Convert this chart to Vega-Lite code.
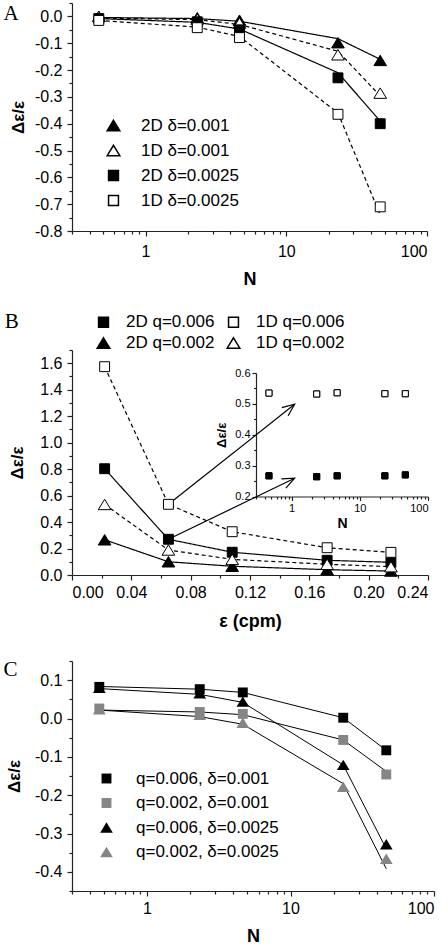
{
  "$schema": "https://vega.github.io/schema/vega-lite/v6.json",
  "padding": {"left": 3, "top": 2, "right": 4, "bottom": 0},
  "spacing": 29,
  "config": {
    "locale": {"number": {"decimal": ".", "thousands": ",", "grouping": [3], "currency": ["$", ""], "minus": "-"}},
    "font": "Liberation Sans",
    "view": {"stroke": null},
    "axis": {"grid": false, "domainColor": "#222", "tickColor": "#222", "labelColor": "#000", "titleColor": "#000", "labelFont": "Liberation Sans", "titleFont": "Liberation Sans", "labelFontSize": 16, "titleFontSize": 18, "titleFontWeight": "bold", "tickSize": 5, "domainWidth": 1.2, "tickWidth": 1.2},
    "axisY": {"labelPadding": 5},
    "axisX": {"labelPadding": 4},
    "legend": {"labelFont": "Liberation Sans", "labelColor": "#000", "labelFontSize": 17, "padding": 0},
    "title": {"font": "Liberation Serif", "fontSize": 21, "fontWeight": "normal", "color": "#000", "anchor": "start", "frame": "bounds"}
  },
  "resolve": {"scale": {"shape": "independent", "fill": "independent", "strokeDash": "independent"}, "legend": {"shape": "independent", "fill": "independent"}},
  "datasets": {
    "A": [
      {"series": "2D δ=0.001", "dim": "2D", "N": 0.465, "val": 0.0, "fit": -0.004},
      {"series": "2D δ=0.001", "dim": "2D", "N": 2.33, "val": -0.005, "fit": -0.008},
      {"series": "2D δ=0.001", "dim": "2D", "N": 4.65, "val": -0.014, "fit": -0.018},
      {"series": "2D δ=0.001", "dim": "2D", "N": 23.3, "val": -0.098, "fit": -0.083},
      {"series": "2D δ=0.001", "dim": "2D", "N": 46.5, "val": -0.164, "fit": -0.16},
      {"series": "1D δ=0.001", "dim": "1D", "N": 0.465, "val": 0.0, "fit": -0.006},
      {"series": "1D δ=0.001", "dim": "1D", "N": 2.33, "val": -0.01, "fit": -0.012},
      {"series": "1D δ=0.001", "dim": "1D", "N": 4.65, "val": -0.025, "fit": -0.03},
      {"series": "1D δ=0.001", "dim": "1D", "N": 23.3, "val": -0.143, "fit": -0.13},
      {"series": "1D δ=0.001", "dim": "1D", "N": 46.5, "val": -0.286, "fit": -0.296},
      {"series": "2D δ=0.0025", "dim": "2D", "N": 0.465, "val": -0.008, "fit": -0.008},
      {"series": "2D δ=0.0025", "dim": "2D", "N": 2.33, "val": -0.02, "fit": -0.022},
      {"series": "2D δ=0.0025", "dim": "2D", "N": 4.65, "val": -0.05, "fit": -0.047},
      {"series": "2D δ=0.0025", "dim": "2D", "N": 23.3, "val": -0.229, "fit": -0.21},
      {"series": "2D δ=0.0025", "dim": "2D", "N": 46.5, "val": -0.4, "fit": -0.39},
      {"series": "1D δ=0.0025", "dim": "1D", "N": 0.465, "val": -0.015, "fit": -0.015},
      {"series": "1D δ=0.0025", "dim": "1D", "N": 2.33, "val": -0.042, "fit": -0.04},
      {"series": "1D δ=0.0025", "dim": "1D", "N": 4.65, "val": -0.079, "fit": -0.075},
      {"series": "1D δ=0.0025", "dim": "1D", "N": 23.3, "val": -0.365, "fit": -0.36},
      {"series": "1D δ=0.0025", "dim": "1D", "N": 46.5, "val": -0.71, "fit": -0.74}
    ],
    "B": [
      {"series": "2D q=0.006", "dim": "2D", "eps": 0.022, "val": 0.803},
      {"series": "2D q=0.006", "dim": "2D", "eps": 0.065, "val": 0.27},
      {"series": "2D q=0.006", "dim": "2D", "eps": 0.108, "val": 0.172},
      {"series": "2D q=0.006", "dim": "2D", "eps": 0.172, "val": 0.111},
      {"series": "2D q=0.006", "dim": "2D", "eps": 0.215, "val": 0.096},
      {"series": "1D q=0.006", "dim": "1D", "eps": 0.022, "val": 1.574},
      {"series": "1D q=0.006", "dim": "1D", "eps": 0.065, "val": 0.534},
      {"series": "1D q=0.006", "dim": "1D", "eps": 0.108, "val": 0.327},
      {"series": "1D q=0.006", "dim": "1D", "eps": 0.172, "val": 0.206},
      {"series": "1D q=0.006", "dim": "1D", "eps": 0.215, "val": 0.171},
      {"series": "2D q=0.002", "dim": "2D", "eps": 0.022, "val": 0.266},
      {"series": "2D q=0.002", "dim": "2D", "eps": 0.065, "val": 0.1},
      {"series": "2D q=0.002", "dim": "2D", "eps": 0.108, "val": 0.066},
      {"series": "2D q=0.002", "dim": "2D", "eps": 0.172, "val": 0.04},
      {"series": "2D q=0.002", "dim": "2D", "eps": 0.215, "val": 0.03},
      {"series": "1D q=0.002", "dim": "1D", "eps": 0.022, "val": 0.533},
      {"series": "1D q=0.002", "dim": "1D", "eps": 0.065, "val": 0.189},
      {"series": "1D q=0.002", "dim": "1D", "eps": 0.108, "val": 0.118},
      {"series": "1D q=0.002", "dim": "1D", "eps": 0.172, "val": 0.081},
      {"series": "1D q=0.002", "dim": "1D", "eps": 0.215, "val": 0.063}
    ],
    "Binset": [
      {"series": "1D q=0.006", "N": 0.465, "val": 0.535},
      {"series": "1D q=0.006", "N": 2.33, "val": 0.532},
      {"series": "1D q=0.006", "N": 4.65, "val": 0.536},
      {"series": "1D q=0.006", "N": 23.3, "val": 0.533},
      {"series": "1D q=0.006", "N": 46.5, "val": 0.533},
      {"series": "2D q=0.006", "N": 0.465, "val": 0.267},
      {"series": "2D q=0.006", "N": 2.33, "val": 0.264},
      {"series": "2D q=0.006", "N": 4.65, "val": 0.267},
      {"series": "2D q=0.006", "N": 23.3, "val": 0.267},
      {"series": "2D q=0.006", "N": 46.5, "val": 0.27}
    ],
    "arrows": [
      {"id": 1, "x": 0.065, "y": 0.534, "x2": 0.1501, "y2": 1.29},
      {"id": 2, "x": 0.065, "y": 0.27, "x2": 0.1501, "y2": 0.731}
    ],
    "C": [
      {"series": "q=0.006, δ=0.001", "N": 0.465, "val": 0.0825, "fit": 0.0835},
      {"series": "q=0.006, δ=0.001", "N": 2.33, "val": 0.0765, "fit": 0.0765},
      {"series": "q=0.006, δ=0.001", "N": 4.65, "val": 0.068, "fit": 0.068},
      {"series": "q=0.006, δ=0.001", "N": 23.3, "val": 0.002, "fit": 0.002},
      {"series": "q=0.006, δ=0.001", "N": 46.5, "val": -0.083, "fit": -0.083},
      {"series": "q=0.002, δ=0.001", "N": 0.465, "val": 0.026, "fit": 0.022},
      {"series": "q=0.002, δ=0.001", "N": 2.33, "val": 0.017, "fit": 0.017},
      {"series": "q=0.002, δ=0.001", "N": 4.65, "val": 0.012, "fit": 0.01},
      {"series": "q=0.002, δ=0.001", "N": 23.3, "val": -0.056, "fit": -0.056},
      {"series": "q=0.002, δ=0.001", "N": 46.5, "val": -0.146, "fit": -0.138},
      {"series": "q=0.006, δ=0.0025", "N": 0.465, "val": 0.08, "fit": 0.078},
      {"series": "q=0.006, δ=0.0025", "N": 2.33, "val": 0.066, "fit": 0.063},
      {"series": "q=0.006, δ=0.0025", "N": 4.65, "val": 0.044, "fit": 0.042},
      {"series": "q=0.006, δ=0.0025", "N": 23.3, "val": -0.121, "fit": -0.121},
      {"series": "q=0.006, δ=0.0025", "N": 46.5, "val": -0.328, "fit": -0.34},
      {"series": "q=0.002, δ=0.0025", "N": 0.465, "val": 0.024, "fit": 0.022},
      {"series": "q=0.002, δ=0.0025", "N": 2.33, "val": 0.01, "fit": 0.005},
      {"series": "q=0.002, δ=0.0025", "N": 4.65, "val": -0.011, "fit": -0.015},
      {"series": "q=0.002, δ=0.0025", "N": 23.3, "val": -0.178, "fit": -0.17},
      {"series": "q=0.002, δ=0.0025", "N": 46.5, "val": -0.366, "fit": -0.392}
    ]
  },
  "vconcat": [
    {
      "spacing": 22,
      "resolve": {"scale": {"shape": "independent", "fill": "independent", "strokeDash": "independent"}, "legend": {"shape": "independent", "fill": "independent"}},
      "vconcat": [
        {
          "width": 355, "height": 228,
          "title": {"text": "A", "offset": -22, "dx": -6},
          "data": {"name": "A"},
          "layer": [
            {
              "mark": {"type": "line", "color": "black", "strokeWidth": 1.2},
              "encoding": {
                "x": {"field": "N", "type": "quantitative", "scale": {"type": "log", "domain": [0.3, 100], "nice": false}, "axis": {"values": [1, 10, 100], "format": "d", "title": "N", "labelPadding": 7, "titlePadding": 11}},
                "y": {"field": "fit", "type": "quantitative", "scale": {"domain": [-0.8, 0.05], "nice": false}, "axis": {"values": [-0.8, -0.7, -0.6, -0.5, -0.4, -0.3, -0.2, -0.1, 0], "format": ".1f", "title": "Δε/ε", "titleFontSize": 17, "titlePadding": 7}},
                "detail": {"field": "series", "type": "nominal"},
                "strokeDash": {"field": "dim", "type": "nominal", "scale": {"domain": ["2D", "1D"], "range": [[1, 0], [4, 3]]}, "legend": null}
              }
            },
            {
              "mark": {"type": "point", "filled": true, "stroke": "black", "strokeWidth": 1, "opacity": 1, "size": 121},
              "encoding": {
                "x": {"field": "N", "type": "quantitative", "axis": {"orient": "bottom", "values": [0.3, 0.4, 0.5, 0.6, 0.7, 0.8, 0.9, 2, 3, 4, 5, 6, 7, 8, 9, 20, 30, 40, 50, 60, 70, 80, 90], "labels": false, "domain": false, "title": null, "tickSize": 3}},
                "y": {"field": "val", "type": "quantitative", "axis": {"orient": "left", "values": [-0.75, -0.65, -0.55, -0.45, -0.35, -0.25, -0.15, -0.05, 0.05], "labels": false, "domain": false, "title": null, "tickSize": 3}},
                "shape": {"field": "series", "type": "nominal", "scale": {"domain": ["2D δ=0.001", "1D δ=0.001", "2D δ=0.0025", "1D δ=0.0025"], "range": ["M0,-0.95L1.15,0.95L-1.15,0.95Z", "M0,-0.95L1.15,0.95L-1.15,0.95Z", "M-0.9,-0.9L0.9,-0.9L0.9,0.9L-0.9,0.9Z", "M-0.9,-0.9L0.9,-0.9L0.9,0.9L-0.9,0.9Z"]},
                  "legend": {"orient": "none", "legendX": 33, "legendY": 114, "title": null, "rowPadding": 7, "labelOffset": 19, "symbolSize": 121, "encode": {"symbols": {"update": {"stroke": {"value": "black"}, "strokeWidth": {"value": 1}}}}}},
                "fill": {"field": "series", "type": "nominal", "scale": {"domain": ["2D δ=0.001", "1D δ=0.001", "2D δ=0.0025", "1D δ=0.0025"], "range": ["black", "white", "black", "white"]}}
              }
            }
          ],
          "resolve": {"axis": {"x": "independent", "y": "independent"}}
        },
        {
          "width": 356, "height": 225,
          "title": {"text": "B", "offset": -18, "dx": -4},
          "layer": [
            {
              "layer": [
                {
                  "data": {"name": "B"},
                  "mark": {"type": "line", "color": "black", "strokeWidth": 1.2},
                  "encoding": {
                    "x": {"field": "eps", "type": "quantitative", "scale": {"domain": [0, 0.24], "nice": false}, "axis": {"values": [0, 0.04, 0.08, 0.12, 0.16, 0.2, 0.24], "format": ".2f", "title": "ε (cpm)", "titlePadding": 12}},
                    "y": {"field": "val", "type": "quantitative", "scale": {"domain": [0, 1.7], "nice": false}, "axis": {"values": [0, 0.2, 0.4, 0.6, 0.8, 1.0, 1.2, 1.4, 1.6], "format": ".1f", "title": "Δε/ε", "titleFontSize": 17, "titlePadding": 13}},
                    "detail": {"field": "series", "type": "nominal"},
                    "strokeDash": {"field": "dim", "type": "nominal", "scale": {"domain": ["2D", "1D"], "range": [[1, 0], [4, 3]]}, "legend": null}
                  }
                },
                {
                  "data": {"name": "arrows"},
                  "mark": {"type": "rule", "color": "black", "strokeWidth": 1.2},
                  "encoding": {
                    "x": {"field": "x", "type": "quantitative", "axis": null},
                    "y": {"field": "y", "type": "quantitative", "axis": null},
                    "x2": {"field": "x2"},
                    "y2": {"field": "y2"}
                  }
                },
                {
                  "data": {"name": "arrows"},
                  "transform": [{"filter": "datum.id == 1"}],
                  "mark": {"type": "point", "shape": "M-1,-0.42L0,0L-1,0.42", "filled": false, "stroke": "black", "strokeWidth": 1.2, "size": 600, "angle": 322.3, "opacity": 1},
                  "encoding": {
                    "x": {"field": "x2", "type": "quantitative", "axis": null},
                    "y": {"field": "y2", "type": "quantitative", "axis": null}
                  }
                },
                {
                  "data": {"name": "arrows"},
                  "transform": [{"filter": "datum.id == 2"}],
                  "mark": {"type": "point", "shape": "M-1,-0.42L0,0L-1,0.42", "filled": false, "stroke": "black", "strokeWidth": 1.2, "size": 600, "angle": 334.2, "opacity": 1},
                  "encoding": {
                    "x": {"field": "x2", "type": "quantitative", "axis": null},
                    "y": {"field": "y2", "type": "quantitative", "axis": null}
                  }
                },
                {
                  "data": {"name": "B"},
                  "mark": {"type": "point", "filled": true, "stroke": "black", "strokeWidth": 1, "opacity": 1, "size": 121},
                  "encoding": {
                    "x": {"field": "eps", "type": "quantitative", "axis": {"orient": "bottom", "values": [0.02, 0.06, 0.1, 0.14, 0.18, 0.22], "labels": false, "domain": false, "title": null, "tickSize": 3}},
                    "y": {"field": "val", "type": "quantitative", "axis": {"orient": "left", "values": [0.1, 0.3, 0.5, 0.7, 0.9, 1.1, 1.3, 1.5, 1.7], "labels": false, "domain": false, "title": null, "tickSize": 3}},
                    "shape": {"field": "series", "type": "nominal", "scale": {"domain": ["2D q=0.006", "2D q=0.002", "1D q=0.006", "1D q=0.002"], "range": ["M-0.9,-0.9L0.9,-0.9L0.9,0.9L-0.9,0.9Z", "M0,-0.95L1.15,0.95L-1.15,0.95Z", "M-0.9,-0.9L0.9,-0.9L0.9,0.9L-0.9,0.9Z", "M0,-0.95L1.15,0.95L-1.15,0.95Z"]},
                      "legend": {"orient": "none", "legendX": 23, "legendY": -36.5, "columns": 2, "columnPadding": 9, "title": null, "rowPadding": 3, "labelOffset": 14, "symbolSize": 121, "encode": {"symbols": {"update": {"stroke": {"value": "black"}, "strokeWidth": {"value": 1}}}}}},
                    "fill": {"field": "series", "type": "nominal", "scale": {"domain": ["2D q=0.006", "2D q=0.002", "1D q=0.006", "1D q=0.002"], "range": ["black", "black", "white", "white"]}}
                  }
                }
              ],
              "resolve": {"axis": {"x": "independent", "y": "independent"}}
            },
            {
              "data": {"name": "Binset"},
              "layer": [
                {
                  "mark": {"type": "point", "filled": true, "stroke": "black", "strokeWidth": 1, "opacity": 1, "size": 45},
                  "encoding": {
                    "x": {"field": "N", "type": "quantitative", "scale": {"type": "log", "domain": [0.3, 100], "nice": false, "range": [184, 356]}, "axis": {"orient": "bottom", "offset": -78.5, "values": [1, 10, 100], "format": "d", "labelFontSize": 11, "labelPadding": 2, "tickSize": 4, "title": "N", "titleFontSize": 14, "titlePadding": 3}},
                    "y": {"field": "val", "type": "quantitative", "scale": {"domain": [0.2, 0.6], "nice": false, "range": [146.5, 23]}, "axis": {"orient": "left", "offset": -184, "values": [0.2, 0.3, 0.4, 0.5, 0.6], "format": ".1f", "labelFontSize": 11, "labelPadding": 2, "tickSize": 4, "title": "Δε/ε", "titleFontSize": 13, "titlePadding": 6}},
                    "shape": {"field": "series", "type": "nominal"},
                    "fill": {"field": "series", "type": "nominal"}
                  }
                },
                {
                  "mark": {"type": "point", "filled": true, "stroke": "black", "strokeWidth": 1, "opacity": 1, "size": 45},
                  "encoding": {
                    "x": {"field": "N", "type": "quantitative", "axis": {"orient": "bottom", "offset": -78.5, "values": [0.3, 0.4, 0.5, 0.6, 0.7, 0.8, 0.9, 2, 3, 4, 5, 6, 7, 8, 9, 20, 30, 40, 50, 60, 70, 80, 90], "labels": false, "domain": false, "title": null, "tickSize": 2.5}},
                    "y": {"field": "val", "type": "quantitative", "axis": {"orient": "left", "offset": -184, "values": [0.25, 0.35, 0.45, 0.55], "labels": false, "domain": false, "title": null, "tickSize": 2.5}},
                    "shape": {"field": "series", "type": "nominal"},
                    "fill": {"field": "series", "type": "nominal"}
                  }
                }
              ],
              "resolve": {"axis": {"x": "independent", "y": "independent"}}
            }
          ],
          "resolve": {"scale": {"x": "independent", "y": "independent"}}
        }
      ]
    },
    {
      "width": 362, "height": 230,
      "title": {"text": "C", "offset": -20, "dx": -2},
      "data": {"name": "C"},
      "layer": [
        {
          "mark": {"type": "line", "color": "black", "strokeWidth": 1},
          "encoding": {
            "x": {"field": "N", "type": "quantitative", "scale": {"type": "log", "domain": [0.3, 100], "nice": false}, "axis": {"values": [1, 10, 100], "format": "d", "title": "N", "titlePadding": 11}},
            "y": {"field": "fit", "type": "quantitative", "scale": {"domain": [-0.45, 0.15], "nice": false}, "axis": {"values": [-0.4, -0.3, -0.2, -0.1, 0, 0.1], "format": ".1f", "title": "Δε/ε", "titleFontSize": 17, "titlePadding": 11}},
            "detail": {"field": "series", "type": "nominal"}
          }
        },
        {
          "mark": {"type": "point", "filled": true, "strokeWidth": 0, "opacity": 1, "size": 121},
          "encoding": {
            "x": {"field": "N", "type": "quantitative", "axis": {"orient": "bottom", "values": [0.3, 0.4, 0.5, 0.6, 0.7, 0.8, 0.9, 2, 3, 4, 5, 6, 7, 8, 9, 20, 30, 40, 50, 60, 70, 80, 90], "labels": false, "domain": false, "title": null, "tickSize": 3}},
            "y": {"field": "val", "type": "quantitative", "axis": {"orient": "left", "values": [-0.45, -0.35, -0.25, -0.15, -0.05, 0.05, 0.15], "labels": false, "domain": false, "title": null, "tickSize": 3}},
            "shape": {"field": "series", "type": "nominal", "scale": {"domain": ["q=0.006, δ=0.001", "q=0.002, δ=0.001", "q=0.006, δ=0.0025", "q=0.002, δ=0.0025"], "range": ["M-0.9,-0.9L0.9,-0.9L0.9,0.9L-0.9,0.9Z", "M-0.9,-0.9L0.9,-0.9L0.9,0.9L-0.9,0.9Z", "M0,-0.95L1.15,0.95L-1.15,0.95Z", "M0,-0.95L1.15,0.95L-1.15,0.95Z"]},
              "legend": {"orient": "none", "legendX": 26, "legendY": 109, "title": null, "rowPadding": 6.5, "labelOffset": 21, "symbolSize": 121, "symbolStrokeWidth": 0}},
            "fill": {"field": "series", "type": "nominal", "scale": {"domain": ["q=0.006, δ=0.001", "q=0.002, δ=0.001", "q=0.006, δ=0.0025", "q=0.002, δ=0.0025"], "range": ["black", "#858585", "black", "#858585"]}}
          }
        }
      ],
      "resolve": {"axis": {"x": "independent", "y": "independent"}}
    }
  ]
}
